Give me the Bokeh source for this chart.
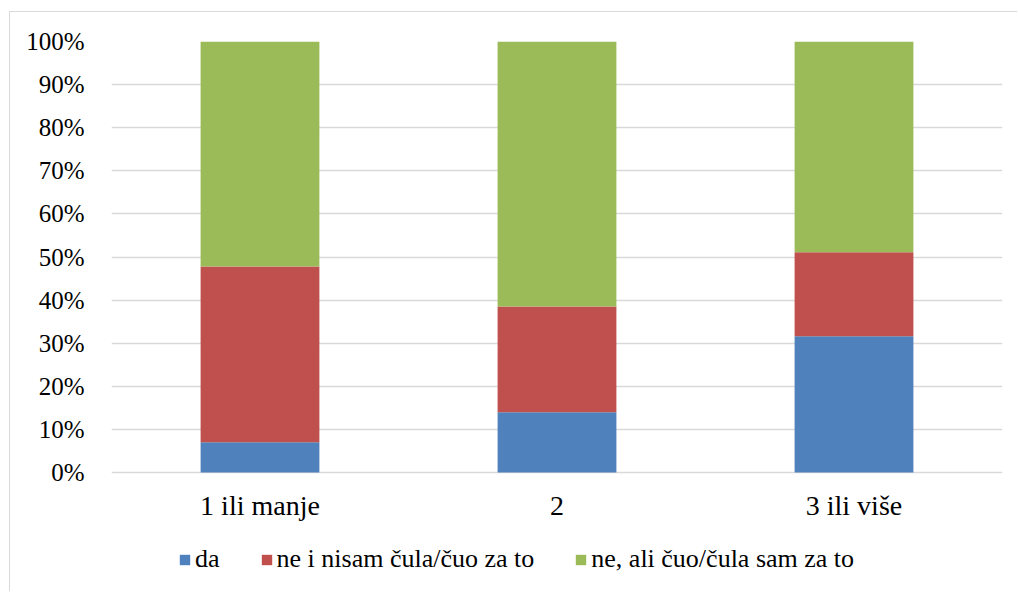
from bokeh.plotting import figure
from bokeh.models import ColumnDataSource, Legend, LegendItem, NumeralTickFormatter, FixedTicker
from bokeh.embed import file_html
from bokeh.resources import INLINE

categories = ["1 ili manje", "2", "3 ili više"]
series_names = ["da", "ne i nisam čula/čuo za to", "ne, ali čuo/čula sam za to"]
da = [0.070, 0.140, 0.316]
ne_nisam = [0.408, 0.245, 0.195]
ne_ali = [0.522, 0.615, 0.489]
colors = ["#4F81BD", "#C0504D", "#9BBB59"]
y_ticks = [0.0, 0.1, 0.2, 0.3, 0.4, 0.5, 0.6, 0.7, 0.8, 0.9, 1.0]

FONT = "'Liberation Serif', 'Times New Roman', serif"

src = ColumnDataSource(dict(cat=categories, s0=da, s1=ne_nisam, s2=ne_ali))

# extra room below 0% holds the category labels and the legend
p = figure(x_range=categories, y_range=(-0.269, 1.0), width=1008, height=580,
           output_backend="svg", toolbar_location=None,
           min_border_left=101, min_border_right=16, min_border_top=29, min_border_bottom=4)
p.styles = {"border-left": "1px solid #D9D9D9", "border-top": "1px solid #D9D9D9",
            "margin-left": "9px", "margin-top": "11px"}
p.outline_line_color = None
p.x_range.range_padding = 0.0

rs = p.vbar_stack(["s0", "s1", "s2"], x="cat", width=0.4, source=src,
                  color=colors, line_color=None)

p.yaxis.ticker = FixedTicker(ticks=y_ticks)
p.yaxis.formatter = NumeralTickFormatter(format="0%")
p.ygrid.grid_line_color = "#D9D9D9"
p.ygrid.grid_line_width = 1.5
p.xgrid.grid_line_color = None
p.xaxis.fixed_location = 0
for ax in (p.xaxis, p.yaxis):
    ax.axis_line_color = None
    ax.major_tick_line_color = None
    ax.minor_tick_line_color = None
    ax.major_tick_out = 0
    ax.major_tick_in = 0
    ax.major_label_text_font = FONT
    ax.major_label_text_color = "#000000"
p.yaxis.major_label_text_font_size = "25px"
p.xaxis.major_label_text_font_size = "28px"
p.yaxis.major_label_standoff = 27
p.xaxis.major_label_standoff = 17

items = [LegendItem(label=n, renderers=[r]) for n, r in zip(series_names, rs)]
legend = Legend(items=items, orientation="horizontal", location=(67, 14),
                glyph_width=13, glyph_height=13, label_standoff=4, spacing=40,
                padding=0, margin=0, border_line_color=None, background_fill_alpha=0,
                label_text_font=FONT, label_text_font_size="26px", label_text_color="#000000")
p.add_layout(legend, "center")

open("out.html", "w").write(file_html(p, INLINE))
